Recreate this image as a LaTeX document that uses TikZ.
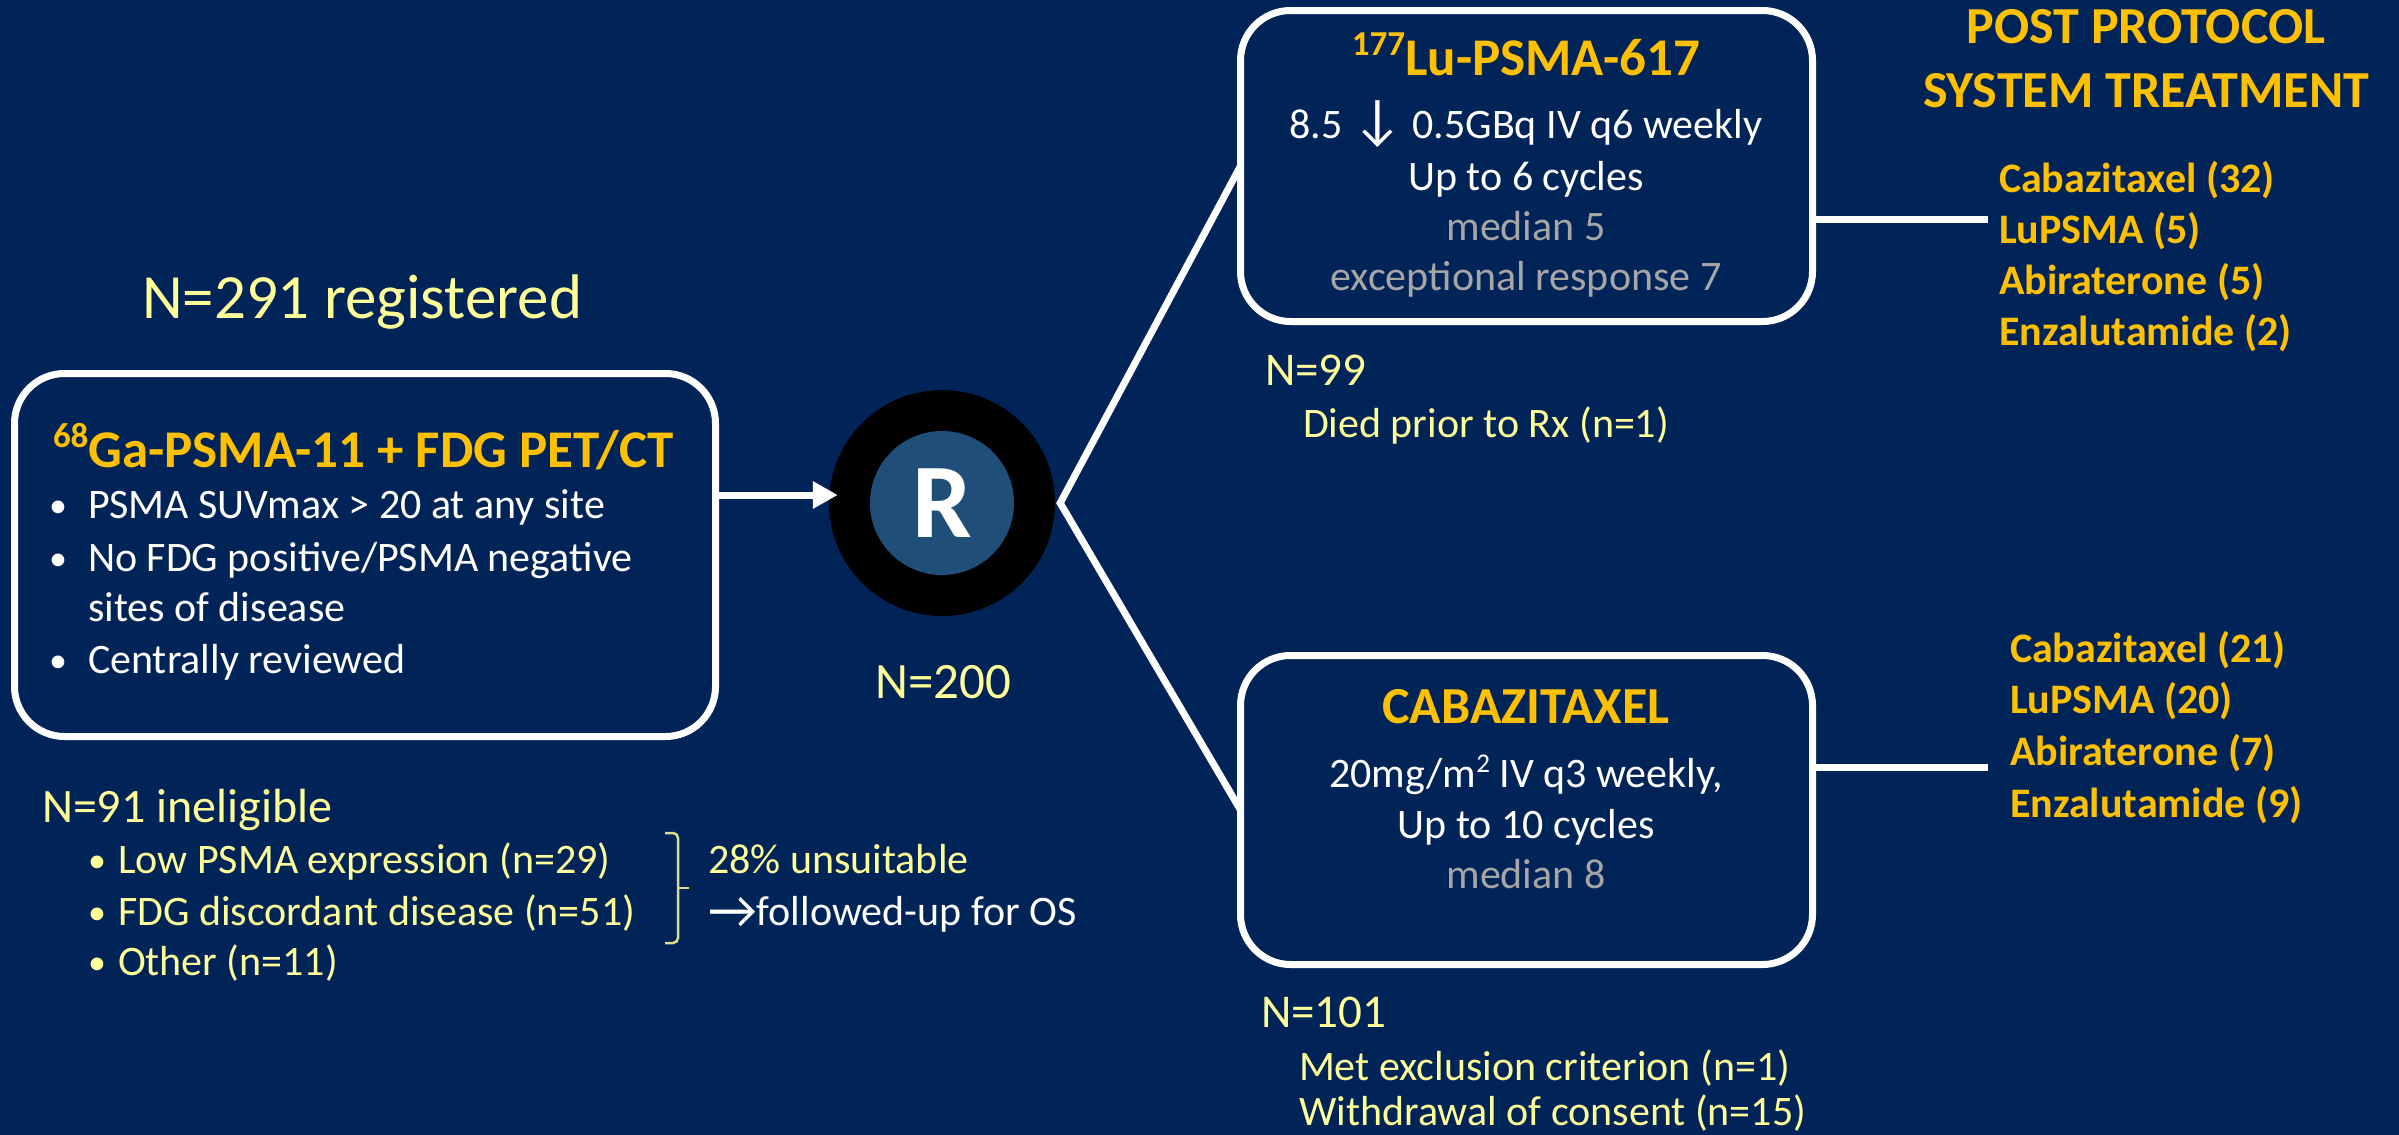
\documentclass[tikz,border=0pt]{standalone}
\usepackage{fontspec}
\setmainfont{Carlito}
\usetikzlibrary{arrows.meta}
\definecolor{bg}{RGB}{0,36,87}
\definecolor{gold}{RGB}{255,192,0}
\definecolor{pale}{RGB}{255,255,153}
\definecolor{greytxt}{RGB}{166,166,166}
\definecolor{rblue}{RGB}{31,78,121}
\newcommand\pxsize[1]{\fontsize{#1pt}{#1pt}\selectfont}
\begin{document}
\begin{tikzpicture}[x=1pt,y=-1pt,
  txt/.style={inner sep=0pt, outer sep=0pt},
  lt/.style={txt, anchor=base west},
  ct/.style={txt, anchor=base},
  box/.style={draw=white, line width=7pt, rounded corners=50pt, inner sep=0pt, outer sep=0pt},
  wline/.style={draw=white, line width=7pt},
  body/.style={font=\pxsize{42}},
  bul/.style={lt, font=\pxsize{36}},
  head/.style={font=\pxsize{53}\bfseries, text=gold},
  gl/.style={lt, font=\pxsize{42}\bfseries, text=gold},
]
\fill[bg] (0,0) rectangle (2399,1135);
\useasboundingbox (0,0) rectangle (2399,1135);

% title
\node[lt, font=\pxsize{63}, text=pale] (reg) at (142,318) {N=291 registered};

% left box
\node[box, minimum width=701pt, minimum height=363pt] (left) at (365,555) {};
\node[lt, head] (lh) at (53,467) {\raisebox{20pt}{\pxsize{35}68}Ga-PSMA-11 + FDG PET/CT};
\node[bul, text=white] (lb1) at (49,517) {•};
\node[lt, body, text=white] (lt1) at (88,518) {PSMA SUVmax > 20 at any site};
\node[bul, text=white] (lb2) at (49,570) {•};
\node[lt, body, text=white] (lt2) at (88,571) {No FDG positive/PSMA negative};
\node[lt, body, text=white] (lt2b) at (88,621) {sites of disease};
\node[bul, text=white] (lb3) at (49,672) {•};
\node[lt, body, text=white] (lt3) at (88,673) {Centrally reviewed};

% R circle
\node[circle, fill=black, minimum size=226pt, inner sep=0pt] (R) at (942,503) {};
\node[circle, fill=rblue, minimum size=144pt, inner sep=0pt, text=white, font=\pxsize{106}\bfseries] (Rin) at (R.center) {R};
\node[ct, font=\pxsize{51}, text=pale] (n200) at (943,698) {N=200};

\draw[wline, -{Triangle[length=25pt,width=26pt]}] (left.east |- 0,495) -- ([xshift=9pt,yshift=8pt]R.west);

% top box
\node[box, minimum width=572pt, minimum height=311pt] (top) at (1526.5,166) {};
\node[ct, head] (t1) at (1526,75) {\raisebox{20pt}{\pxsize{35}177}Lu-PSMA-617};
\node[ct, body, text=white] (t2) at (1526,138) {8.5 {\pxsize{56}↓} 0.5GBq IV q6 weekly};
\node[ct, body, text=white] (t3) at (1526,190) {Up to 6 cycles};
\node[ct, body, text=greytxt] (t4) at (1526,240) {median 5};
\node[ct, body, text=greytxt] (t5) at (1526,290) {exceptional response 7};

% bottom box
\node[box, minimum width=572pt, minimum height=309pt] (bot) at (1526.5,810) {};
\node[ct, font=\pxsize{52}\bfseries, text=gold] (b1) at (1526,723) {CABAZITAXEL};
\node[ct, body, text=white] (b2) at (1526,787) {20mg/m\raisebox{15pt}{\pxsize{27}2} IV q3 weekly,};
\node[ct, body, text=white] (b3) at (1526,838) {Up to 10 cycles};
\node[ct, body, text=greytxt] (b4) at (1526,888) {median 8};

% fork lines
\coordinate (fork) at ([xshift=5pt]R.east);
\draw[wline, line join=miter] (top.west) -- (fork) -- (bot.west);

% post protocol
\node[ct, font=\pxsize{52}\bfseries, text=gold] (pp1) at (2146,43) {POST PROTOCOL};
\node[ct, font=\pxsize{52}\bfseries, text=gold] (pp2) at (2146,107) {SYSTEM TREATMENT};

\coordinate (la) at (1988,219);
\coordinate (lb) at (1988,767);
\draw[wline] (top.east |- la) -- (la);
\draw[wline] (bot.east |- lb) -- (lb);

\node[gl] (a1) at (1999,192) {Cabazitaxel (32)};
\node[gl] (a2) at (1999,243) {LuPSMA (5)};
\node[gl] (a3) at (1999,294) {Abiraterone (5)};
\node[gl] (a4) at (1999,345) {Enzalutamide (2)};

\node[gl] (c1) at (2010,662) {Cabazitaxel (21)};
\node[gl] (c2) at (2010,713) {LuPSMA (20)};
\node[gl] (c3) at (2010,765) {Abiraterone (7)};
\node[gl] (c4) at (2010,817) {Enzalutamide (9)};

% N=99, N=101
\node[lt, font=\pxsize{47}, text=pale] (n99) at (1265,385) {N=99};
\node[lt, body, text=pale] (d99) at (1303,437) {Died prior to Rx (n=1)};
\node[lt, font=\pxsize{47}, text=pale] (n101) at (1261,1027) {N=101};
\node[lt, body, text=pale] (e1) at (1299,1080) {Met exclusion criterion (n=1)};
\node[lt, body, text=pale] (e2) at (1299,1125) {Withdrawal of consent (n=15)};

% ineligible
\node[lt, font=\pxsize{48}, text=pale] (n91) at (42,822) {N=91 ineligible};
\node[bul, text=pale] (ib1) at (88,872) {•};
\node[lt, body, text=pale] (it1) at (118,873) {Low PSMA expression (n=29)};
\node[bul, text=pale] (ib2) at (88,924) {•};
\node[lt, body, text=pale] (it2) at (118,925) {FDG discordant disease (n=51)};
\node[bul, text=pale] (ib3) at (88,974) {•};
\node[lt, body, text=pale] (it3) at (118,975) {Other (n=11)};

\draw[pale!85!bg, line width=2.5pt, rounded corners=5pt] (665,833) -- (678,833) -- (678,888) -- (678,943) -- (665,943);
\draw[pale!85!bg, line width=2.5pt] (678,888) -- (689,888);

\node[lt, body, text=pale] (u1) at (708,873) {28\% unsuitable};
\node[lt, body, text=white] (u2) at (708,925) {\raisebox{-3pt}{\pxsize{54}→}followed-up for OS};
\end{tikzpicture}
\end{document}
